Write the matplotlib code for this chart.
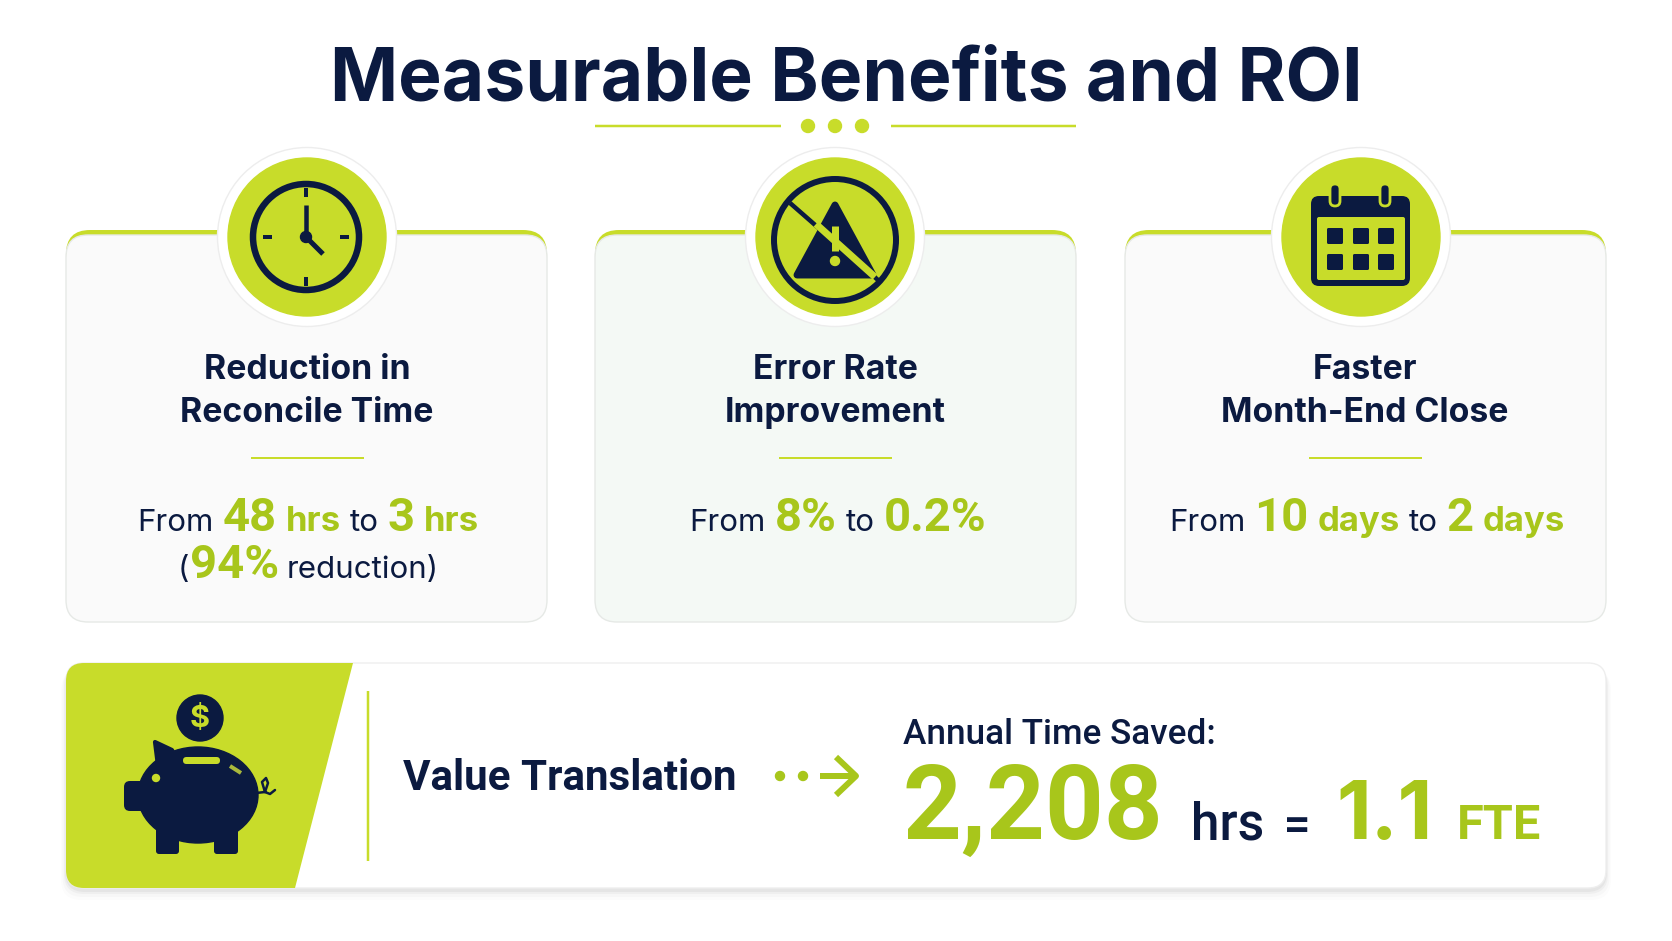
import matplotlib
matplotlib.use("Agg")
import matplotlib.pyplot as plt
import matplotlib.patches as mp

NAVY = "#0b1a40"
LIME = "#c8dc2a"
LIME_TEXT = "#a8c61b"
FONT = "Inter"
FONT_TIGHT = "Roboto"

title = "Measurable Benefits and ROI"
card_titles = [["Reduction in", "Reconcile Time"],
               ["Error Rate", "Improvement"],
               ["Faster", "Month-End Close"]]
card_first = [[("From", 0), ("48", 1), ("hrs", 2), ("to", 0), ("3", 1), ("hrs", 2)],
              [("From", 0), ("8%", 1), ("to", 0), ("0.2%", 1)],
              [("From", 0), ("10", 1), ("days", 2), ("to", 0), ("2", 1), ("days", 2)]]
card_second = [("(", 0), ("94%", 1), ("reduction)", 0)]
card_faces = ["#fafafa", "#f4f9f5", "#fafafa"]
card_left = [66, 595, 1125]
icon_x = [307, 835, 1361]
text_x = [307, 835, 1365]
body_x = [308, 838, 1367]

value_label = "Value Translation"
annual_label = "Annual Time Saved:"
hours_saved = "2,208"
fte_saved = "1.1"

fig = plt.figure(figsize=(16.72, 9.41), dpi=100, facecolor="white")
ax = fig.add_axes([0, 0, 1, 1])
ax.set_xlim(0, 1672)
ax.set_ylim(941, 0)
ax.axis("off")


def box(x, y, w, h, r, **kw):
    p = mp.FancyBboxPatch((x, y), w, h, boxstyle=f"round,pad=0,rounding_size={r}", **kw)
    ax.add_patch(p)
    return p


def line(xs, ys, width, color=NAVY, cap="butt", z=6):
    ax.plot(xs, ys, color=color, lw=width * 0.72, solid_capstyle=cap, zorder=z)


def circle(x, y, r, z=6, **kw):
    p = mp.Circle((x, y), r, zorder=z, **kw)
    ax.add_patch(p)
    return p


def runs(cx, y, items, sizes, gap=9):
    # one line of text in several colours, centred on cx
    styles = {0: (NAVY, sizes[0], "normal", FONT), 1: (LIME_TEXT, sizes[1], "bold", FONT_TIGHT), 2: (LIME_TEXT, sizes[2], "bold", FONT)}
    r = fig.canvas.get_renderer()
    made = []
    for word, kind in items:
        color, size, weight, fam = styles[kind]
        t = ax.text(0, y, word, color=color, fontsize=size, fontweight=weight, family=fam, va="baseline", ha="left", zorder=7)
        made.append((t, t.get_window_extent(r).width))
    skip = [gap] * len(made)
    if items[0][0] == "(":
        skip[0] = 1
        skip[1] = 8
    total = sum(w for _, w in made) + sum(skip[:-1])
    x = cx - total / 2
    for (t, w), g in zip(made, skip):
        t.set_x(x)
        x += w + g


# title
ax.text(846, 100, title, ha="center", va="baseline", fontsize=52.7, fontweight="bold", color=NAVY, family=FONT)
line([595, 781], [126, 126], 2.5, LIME)
line([891, 1076], [126, 126], 2.5, LIME)
for x in [808, 835, 862]:
    circle(x, 126, 6.5, color=LIME)

# cards
for i, left in enumerate(card_left):
    box(left, 230, 481, 80, 24, fc=LIME, ec="none", zorder=1)
    box(left, 235, 481, 387, 22, fc=card_faces[i], ec="#e6e9e6", lw=1, zorder=2)
    cx = icon_x[i]
    circle(cx, 237, 89.5, z=3, fc="white", ec="#ededed", lw=1)
    circle(cx, 237, 79, z=4, color=LIME)
    for k, txt in enumerate(card_titles[i]):
        ax.text(text_x[i], 379 + 43 * k, txt, ha="center", va="baseline", fontsize=24.3, fontweight="bold", color=NAVY, family=FONT, zorder=7)
    line([text_x[i] - 56, text_x[i] + 57], [458, 458], 2, LIME)
    runs(body_x[i], 531, card_first[i], (22.5, 34, 25))
runs(body_x[0], 578, card_second, (22.5, 34, 25))

# clock
cx = icon_x[0] - 1
circle(cx, 237, 53, fc="none", ec=NAVY, lw=6.5 * 0.72)
line([cx, cx], [188, 197], 4)
line([cx, cx], [277, 286], 4)
line([cx - 43, cx - 34], [237, 237], 4)
line([cx + 34, cx + 43], [237, 237], 4)
line([cx, cx], [237, 205], 4.5)
line([cx, cx + 17], [237, 254], 5)
circle(cx, 237, 5.5, color=NAVY)

# warning with slash
cx = icon_x[1]
circle(cx, 240, 61, fc="none", ec=NAVY, lw=6 * 0.72)
ax.add_patch(mp.Polygon([[835, 205], [873, 275], [797, 275]], closed=True, fc=NAVY, ec=NAVY, lw=5, joinstyle="round", zorder=6))
line([790, 878], [203, 280], 4.5, NAVY, z=6)
line([816, 875], [224, 277], 7, LIME, z=7)
line([835, 835], [226, 251], 7, LIME, z=7)
circle(835, 261, 4.5, z=8, color=LIME)

# calendar
box(1311, 196, 99, 90, 8, fc=NAVY, ec="none", zorder=6)
box(1317, 217, 88, 63, 2, fc=LIME, ec="none", zorder=7)
for x in [1335, 1385]:
    box(x - 5, 184, 10, 22, 5, fc=NAVY, ec=LIME, lw=2, zorder=8)
for x in [1327, 1353, 1378]:
    for y in [228, 254]:
        box(x, y, 16, 16, 1.5, fc=NAVY, ec="none", zorder=8)

# bottom panel with shadow
for grow, alpha in [(10, 0.012), (7, 0.02), (4, 0.03), (2, 0.04)]:
    box(66 - grow / 2, 665 + grow / 2, 1540 + grow, 225 + grow / 2, 20, fc="black", ec="none", alpha=alpha, zorder=1)
panel = box(66, 663, 1540, 225, 18, fc="white", ec="#eeeeee", lw=1, zorder=2)
green = mp.Polygon([[66, 663], [353, 663], [295, 888], [66, 888]], closed=True, fc=LIME, ec="none", zorder=3)
ax.add_patch(green)
green.set_clip_path(panel)
line([368, 368], [691, 861], 2.5, LIME)

# piggy bank
circle(200, 718, 23, color=NAVY)
ax.text(200, 719, "$", ha="center", va="center", color=LIME, fontsize=22, fontweight="bold", family=FONT, zorder=7)
ax.add_patch(mp.Ellipse((198, 795), 120, 96, color=NAVY, zorder=6))
box(124, 781, 30, 30, 6, fc=NAVY, ec="none", zorder=6)
ax.add_patch(mp.Polygon([[155, 742], [172, 750], [178, 762], [158, 766]], closed=True, fc=NAVY, ec=NAVY, lw=3, joinstyle="round", zorder=6))
box(156, 825, 23, 29, 3, fc=NAVY, ec="none", zorder=6)
box(214, 825, 24, 29, 3, fc=NAVY, ec="none", zorder=6)
box(183, 757, 37, 7, 3.5, fc=LIME, ec="none", zorder=7)
line([230, 241], [766, 773], 4, "#a9b83c", z=7)
circle(156, 778, 3.5, z=7, color=LIME)
tail_x = [256, 265, 268, 266, 262, 265, 270, 275]
tail_y = [793, 792, 783, 778, 782, 792, 794, 790]
line(tail_x, tail_y, 2.5, NAVY, cap="round")

# value translation
ax.text(403, 790, value_label, ha="left", va="baseline", fontsize=30.3, fontweight="bold", color=NAVY, family=FONT_TIGHT)
circle(780, 776, 4.5, color=LIME_TEXT)
circle(803, 776, 4.5, color=LIME_TEXT)
line([820, 855], [776, 776], 6, LIME_TEXT)
line([836, 856, 836], [757, 776, 795], 6, LIME_TEXT)
ax.text(903, 744, annual_label, ha="left", va="baseline", fontsize=25.3, fontweight="medium", color=NAVY, family=FONT_TIGHT)
ax.text(903, 839, hours_saved, ha="left", va="baseline", fontsize=74, fontweight="bold", color=LIME_TEXT, family=FONT_TIGHT)
ax.text(1191, 839, "hrs", ha="left", va="baseline", fontsize=37, fontweight="medium", color=NAVY, family=FONT_TIGHT)
ax.text(1283, 837, "=", ha="left", va="baseline", fontsize=30, fontweight="bold", color=NAVY, family=FONT)
ax.text(1336, 839, fte_saved, ha="left", va="baseline", fontsize=58, fontweight="bold", color=LIME_TEXT, family=FONT)
ax.text(1457, 839, "FTE", ha="left", va="baseline", fontsize=35, fontweight="bold", color=LIME_TEXT, family=FONT_TIGHT)

fig.savefig("out.png", dpi=100, facecolor="white")
